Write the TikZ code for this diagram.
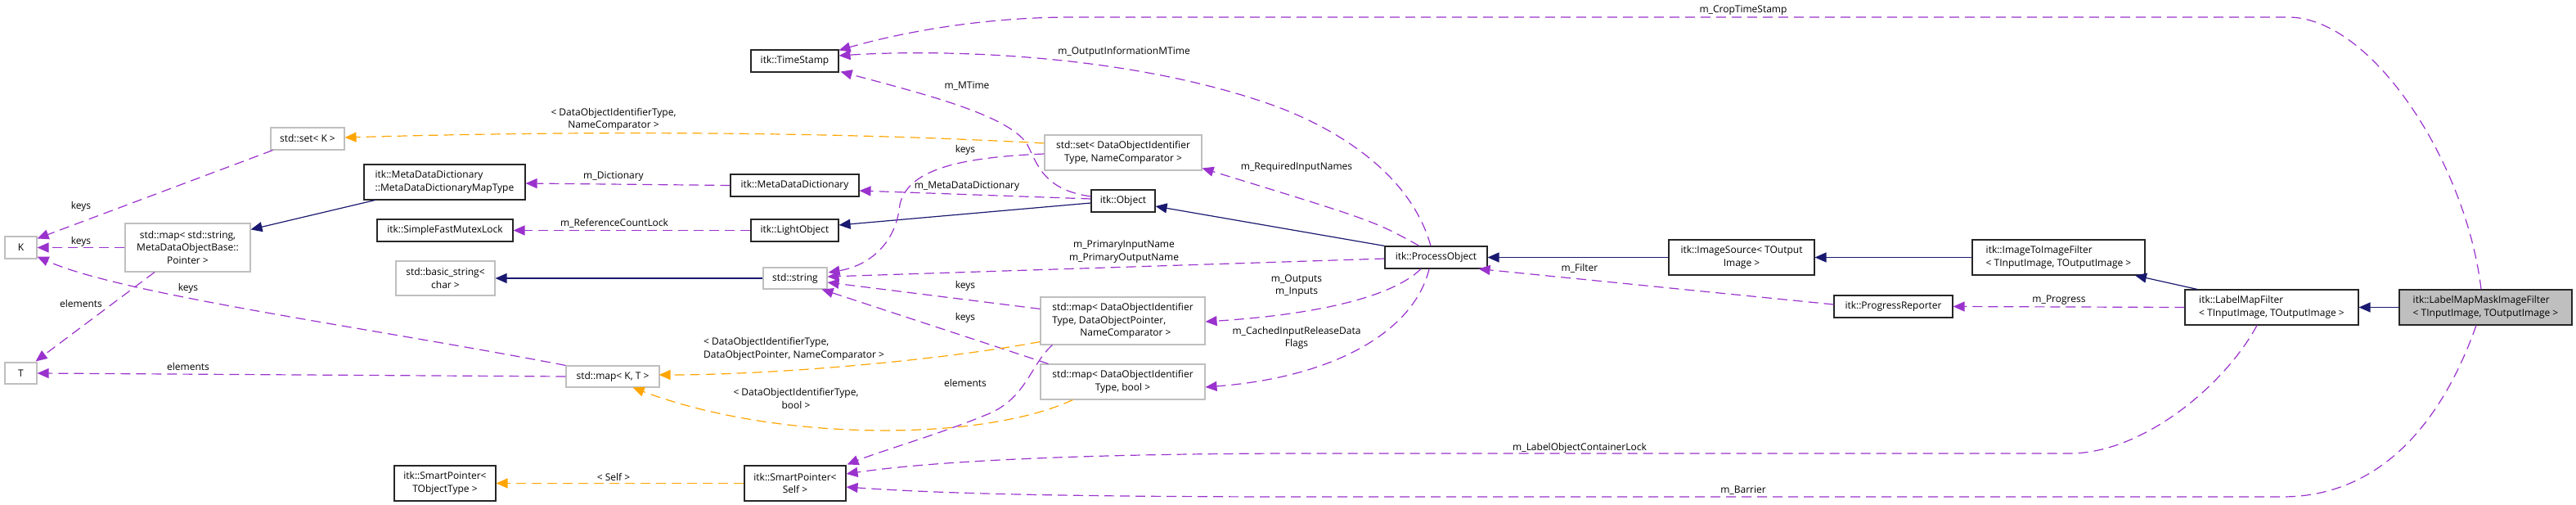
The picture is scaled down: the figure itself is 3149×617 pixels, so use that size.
\documentclass[tikz,border=0pt]{standalone}
\usepackage{fontspec}
\setmainfont{Open Sans}
\usetikzlibrary{arrows.meta,calc}
\definecolor{inhc}{HTML}{191970}
\definecolor{usec}{HTML}{9A32CD}
\definecolor{tplc}{HTML}{FFA500}
\definecolor{extc}{HTML}{BFBFBF}
\definecolor{selc}{HTML}{BFBFBF}
\newcommand\mkbox[7]{%
  \node[#6, minimum width={(#4-#2)*1pt}, minimum height={(#5-#3)*1pt}] (#1) at ({(#2+#4)/2},{(#3+#5)/2}) {#7};}
\begin{document}
\begin{tikzpicture}[x=1pt,y=-1pt,
  every node/.style={font=\fontsize{12}{15.5}\selectfont},
  cls/.style={draw=black!85,line width=1.1pt,fill=white,inner sep=0pt,align=center},
  ext/.style={draw=extc,line width=1.1pt,fill=white,inner sep=0pt,align=center},
  lft/.style={align=left},
  inh/.style={draw=inhc,line width=1.2pt,-{Triangle[length=14pt,width=12pt]}},
  use/.style={draw=usec,line width=1.2pt,dash pattern=on 12pt off 7pt,-{Triangle[length=14pt,width=12pt]}},
  tpl/.style={draw=tplc,line width=1.2pt,dash pattern=on 12pt off 7pt,-{Triangle[length=14pt,width=12pt]}},
  lbl/.style={inner sep=0pt,align=center}]
\useasboundingbox (0,0) rectangle (3149,617);

% nodes
\mkbox{K}{6}{289}{45}{316}{ext}{K}
\mkbox{T}{6}{443}{45}{469}{ext}{T}
\mkbox{setK}{331}{156}{421}{183}{ext}{std::set< K >}
\mkbox{mapSS}{153}{273}{306}{332}{ext}{std::map< std::string,\\MetaDataObjectBase::\\Pointer >}
\mkbox{MDDMap}{445}{201}{642}{244}{cls,lft}{itk::MetaDataDictionary\\::MetaDataDictionaryMapType}
\mkbox{Mutex}{461}{268}{627}{295}{cls}{itk::SimpleFastMutexLock}
\mkbox{basicstr}{484}{319}{605}{361}{ext}{std::basic\_string<\\char >}
\mkbox{mapKT}{692}{447}{806}{473}{ext}{std::map< K, T >}
\mkbox{spT}{482}{569}{606}{612}{cls}{itk::SmartPointer<\\TObjectType >}
\mkbox{TS}{918}{61}{1025}{88}{cls}{itk::TimeStamp}
\mkbox{setDO}{1277}{165}{1469}{208}{ext}{std::set< DataObjectIdentifier\\Type, NameComparator >}
\mkbox{MDD}{893}{213}{1050}{240}{cls}{itk::MetaDataDictionary}
\mkbox{LO}{918}{268}{1025}{295}{cls}{itk::LightObject}
\mkbox{Obj}{1334}{232}{1412}{259}{cls}{itk::Object}
\mkbox{str}{933}{327}{1011}{353}{ext}{std::string}
\mkbox{mapDOP}{1272}{363}{1473}{421}{ext,lft}{std::map< DataObjectIdentifier\\Type, DataObjectPointer,\\\hspace*{34pt}NameComparator >}
\mkbox{mapDB}{1272}{445}{1473}{488}{ext}{std::map< DataObjectIdentifier\\Type, bool >}
\mkbox{spS}{910}{569}{1034}{612}{cls}{itk::SmartPointer<\\Self >}
\mkbox{PO}{1693}{301}{1818}{328}{cls}{itk::ProcessObject}
\mkbox{IS}{2040}{293}{2218}{336}{cls}{itk::ImageSource< TOutput\\Image >}
\mkbox{PR}{2242}{361}{2387}{388}{cls}{itk::ProgressReporter}
\mkbox{I2I}{2411}{293}{2622}{336}{cls,lft}{itk::ImageToImageFilter\\< TInputImage, TOutputImage >}
\mkbox{LMF}{2671}{354}{2883}{397}{cls,lft}{itk::LabelMapFilter\\< TInputImage, TOutputImage >}
\mkbox{LMMIF}{2933}{354}{3144}{397}{cls,lft,fill=selc}{itk::LabelMapMaskImageFilter\\< TInputImage, TOutputImage >}

% inheritance
\draw[inh] (LMMIF.west) -- (LMF.east);
\draw[inh] ($(LMF.north)+(-91,0)$) -- ($(I2I.south)+(93.5,0)$);
\draw[inh] (I2I.west) -- (IS.east);
\draw[inh] (IS.west) -- (PO.east);
\draw[inh] (PO.north west) -- ($(Obj.east)+(0,6.5)$);
\draw[inh] ($(Obj.west)+(0,2.5)$) -- ($(LO.east)+(0,-6.5)$);
\draw[inh] (str.west) -- (basicstr.east);
\draw[inh] ($(MDDMap.south west)+(14,0)$) -- ($(mapSS.north east)+(0,8)$);

% usage
\draw[use] ($(LMMIF.north)+(-5.5,0)$) .. controls (3015,200) and (2900,21) .. (2797,21) -- (1310,21) .. controls (1200,21) and (1100,40) .. ($(TS.north east)+(0,1)$);
\draw[use] ($(PO.north)+(-6.5,0)$) .. controls (1725,215) and (1640,160) .. (1560,130) .. controls (1380,65) and (1150,60) .. ($(TS.east)+(0,-6.5)$);
\draw[use] ($(Obj.west)+(0,-5.5)$) .. controls (1275,232) and (1268,200) .. (1255,175) .. controls (1230,140) and (1130,115) .. ($(TS.south east)+(2,-1)$);
\draw[use] (MDD.west) -- ($(MDDMap.east)+(0,1.5)$);
\draw[use] (LO.west) -- (Mutex.east);
\draw[use] ($(Obj.west)+(0,-2.5)$) -- ($(MDD.east)+(0,6.5)$);
\draw[use] ($(PO.north)+(-20.5,0)$) .. controls (1680,270) .. ($(setDO.south east)+(0,-3)$);
\draw[use] ($(setDO.west)+(0,1.5)$) .. controls (1180,192) and (1110,205) .. (1100,250) .. controls (1095,300) and (1060,325) .. ($(str.east)+(1,-7)$);
\draw[use] ($(PO.west)+(0,1.5)$) -- ($(str.east)+(0,-2)$);
\draw[use] ($(mapDOP.north west)+(0,15)$) -- ($(str.east)+(0,5)$);
\draw[use] ($(mapDB.north west)+(10,0)$) -- ($(str.south east)+(-7,0)$);
\draw[use] ($(PO.south)+(-18.5,0)$) .. controls (1700,365) and (1600,385) .. ($(mapDOP.east)+(0,1)$);
\draw[use] ($(PO.south)+(-8.5,0)$) .. controls (1730,400) and (1640,460) .. ($(mapDB.east)+(0,6.5)$);
\draw[use] ($(PR.west)+(0,-2.5)$) -- ($(PO.south east)+(-11,0)$);
\draw[use] (LMF.west) -- (PR.east);
\draw[use] ($(LMF.south)+(-18,0)$) .. controls (2720,470) and (2620,554) .. (2530,554) -- (1600,554) .. controls (1350,554) and (1150,562) .. ($(spS.east)+(0,-11.5)$);
\draw[use] ($(LMMIF.south)+(-11.5,0)$) .. controls (2980,530) and (2900,607) .. (2790,607) -- (1600,607) .. controls (1300,607) and (1150,603) .. ($(spS.east)+(0,4.5)$);
\draw[use] ($(mapDOP.south west)+(15,0)$) .. controls (1260,445) and (1255,485) .. (1210,505) .. controls (1150,530) and (1080,550) .. ($(spS.north east)+(1,-1)$);
\draw[use] ($(setK.south west)+(3,0)$) -- ($(K.north east)+(0,3)$);
\draw[use] (mapSS.west) -- (K.east);
\draw[use] (mapKT.north west) .. controls (450,400) and (150,360) .. ($(K.south east)+(0,-3)$);
\draw[use] ($(mapSS.south)+(-40.5,0)$) -- ($(T.north east)+(-2,-1)$);
\draw[use] (mapKT.west) -- (T.east);

% template instances
\draw[tpl] ($(setDO.west)+(0,-11.5)$) .. controls (1000,160) and (700,160) .. ($(setK.east)+(0,-1.5)$);
\draw[tpl] ($(mapDOP.south west)+(0,-4)$) .. controls (1150,440) and (950,458) .. ($(mapKT.east)+(-1,-2)$);
\draw[tpl] ($(mapDB.south west)+(40,0)$) .. controls (1200,540) and (950,540) .. ($(mapKT.south east)+(-33,0)$);
\draw[tpl] (spS.west) -- (spT.east);

% labels
\node[lbl] (l1) at (2131,13) {m\_CropTimeStamp};
\node[lbl] (l2) at (1374,63) {m\_OutputInformationMTime};
\node[lbl] (l3) at (1182,105) {m\_MTime};
\node[lbl] (l4) at (750,216) {m\_Dictionary};
\node[lbl] (l5) at (751,273) {m\_ReferenceCountLock};
\node[lbl] (l6) at (1182,228) {m\_MetaDataDictionary};
\node[lbl] (l7) at (1585,204) {m\_RequiredInputNames};
\node[lbl] (l8) at (1180,183) {keys};
\node[lbl] (l9) at (1374,307.5) {m\_PrimaryInputName\\m\_PrimaryOutputName};
\node[lbl] (l10) at (1180,349) {keys};
\node[lbl] (l11) at (1180,388) {keys};
\node[lbl] (l12) at (1585,349) {m\_Outputs\\m\_Inputs};
\node[lbl] (l13) at (1585,413) {m\_CachedInputReleaseData\\Flags};
\node[lbl] (l14) at (1931,328) {m\_Filter};
\node[lbl] (l15) at (2517,367) {m\_Progress};
\node[lbl] (l16) at (1931,547) {m\_LabelObjectContainerLock};
\node[lbl] (l17) at (2131,599) {m\_Barrier};
\node[lbl] (l18) at (1180,468) {elements};
\node[lbl] (l19) at (99,252) {keys};
\node[lbl] (l20) at (99,295) {keys};
\node[lbl] (l21) at (230,352) {keys};
\node[lbl] (l22) at (99,371) {elements};
\node[lbl] (l23) at (230,448) {elements};
\node[lbl] (l24) at (750,146) {< DataObjectIdentifierType,\\NameComparator >};
\node[lbl,align=left,anchor=west] (l25) at (860,426.5) {< DataObjectIdentifierType,\\DataObjectPointer, NameComparator >};
\node[lbl] (l26) at (973,487) {< DataObjectIdentifierType,\\bool >};
\node[lbl] (l27) at (750,583) {< Self >};
\end{tikzpicture}
\end{document}
